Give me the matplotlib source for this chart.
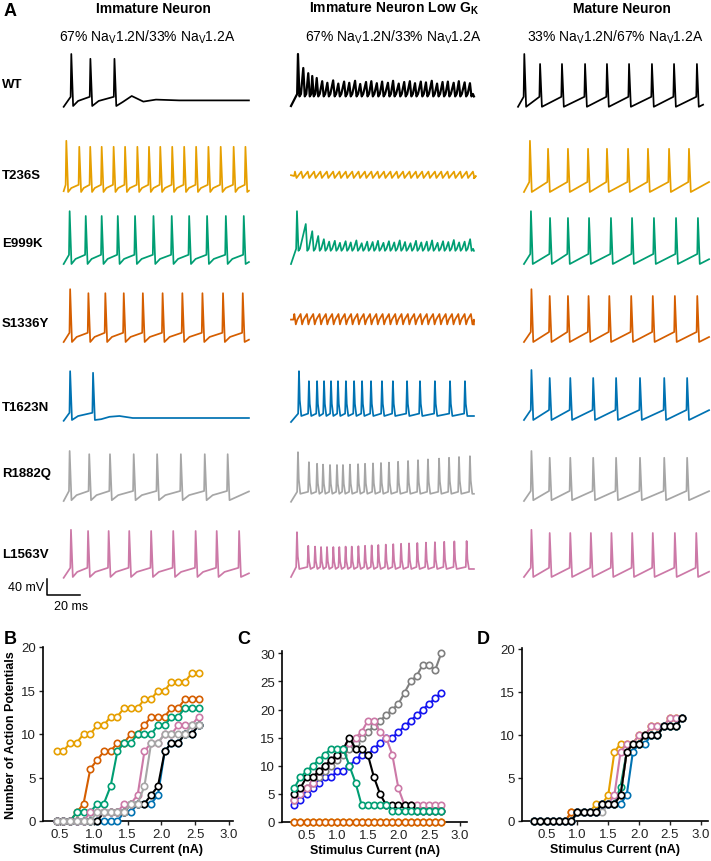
import matplotlib
matplotlib.use('Agg')
import matplotlib.pyplot as plt

plt.rcParams['font.family'] = ['Liberation Sans', 'DejaVu Sans']
plt.rcParams['mathtext.fontset'] = 'custom'
plt.rcParams['mathtext.rm'] = 'Liberation Sans'
plt.rcParams['mathtext.it'] = 'Liberation Sans:italic'
plt.rcParams['mathtext.bf'] = 'Liberation Sans:bold'

# ---------------------------------------------------------------- data
MUTANTS = ['WT', 'T236S', 'E999K', 'S1336Y', 'T1623N', 'R1882Q', 'L1563V']
TRACE_COLORS = ['#000000', '#E69F00', '#009E73', '#D55E00', '#0072B2', '#A6A6A6', '#CC79A7']

# spike times (ms) and peaks (mV); peaks of 2 values = [first, rest]
# Immature neuron
WT_IMM_T = [5.0, 16.5, 31.0]
WT_IMM_PK = [50, 38]
T236S_IMM_T = [2.0, 9.8, 16.4, 23.3, 30.5, 37.4, 44.8, 51.8, 58.6, 65.8, 73.0, 80.2, 87.6, 95.0, 102.8, 109.9]
T236S_IMM_PK = [48, 33]
E999K_IMM_T = [4.0, 13.7, 23.3, 33.0, 43.4, 54.5, 65.5, 76.0, 86.8, 98.1, 108.9]
E999K_IMM_PK = [52, 40]
S1336Y_IMM_T = [4.3, 15.3, 25.5, 36.6, 48.1, 60.0, 71.9, 84.0, 96.4, 108.3]
S1336Y_IMM_PK = [52, 42]
T1623N_IMM_T = [4.3, 18.1]
T1623N_IMM_PK = [42, 38]
R1882Q_IMM_T = [4.0, 15.8, 28.3, 42.6, 56.7, 71.0, 85.4, 99.2]
R1882Q_IMM_PK = [45, 37]
L1563V_IMM_T = [4.8, 15.1, 27.5, 39.9, 53.1, 66.4, 79.9, 92.6, 106.1]
L1563V_IMM_PK = [38, 35]
WT_IMM_TAIL_T = [36.0, 41.4, 48.4, 56.0, 70.0, 112.0]
WT_IMM_TAIL_V = [-70, -55, -69, -64, -66, -66]
T1623N_IMM_TAIL_T = [23.0, 28.0, 34.0, 42.0, 112.0]
T1623N_IMM_TAIL_V = [-78, -72, -70, -75, -75]

# Immature neuron low GK
WT_LGK_T = [4.8, 8.0, 11.0, 13.4, 16.1, 19.4, 22.5, 26.0, 29.1, 32.6, 35.7, 39.2, 42.3, 45.8, 49.0, 52.3, 55.5,
            59.0, 62.1, 65.5, 68.8, 72.2, 75.3, 78.8, 81.9, 85.4, 88.6, 91.9, 95.1, 98.6, 101.7, 105.2, 108.4]
WT_LGK_PK = [50, 15, 2, -5, -10, -18, -22, -16, -24, -19, -22, -17, -25, -20, -18, -23, -19, -22, -17, -24, -20,
             -18, -23, -19, -21, -17, -24, -20, -19, -22, -18, -21, -23]
T236S_LGK_T = [3.0, 6.8, 10.7, 14.5, 18.3, 22.2, 26.0, 29.8, 33.6, 37.5, 41.3, 45.1, 49.0, 52.8, 56.6, 60.5, 64.3,
               68.1, 72.0, 75.8, 79.6, 83.4, 87.3, 91.1, 94.9, 98.8, 102.6, 106.4, 110.2]
T236S_LGK_PK = [-29, -29]
E999K_LGK_T = [4.2, 9.5, 13.4, 17.0, 20.4, 23.6, 27.0, 30.1, 33.5, 36.6, 40.0, 43.2, 46.5, 49.8, 53.0, 56.3, 59.6,
               62.8, 66.1, 69.3, 72.6, 75.9, 79.1, 82.4, 85.6, 88.9, 92.2, 95.4, 98.7, 101.9, 105.2, 108.5]
E999K_LGK_PK = [52, 20, 2, -10, -18, -24, -22, -27, -23, -26, -21, -28, -24, -25, -22, -27, -23, -26, -21, -25, -28,
                -22, -26, -24, -21, -27, -23, -25, -20, -26, -24, -18]
S1336Y_LGK_T = [2.6, 6.4, 10.2, 14.0, 17.8, 21.6, 25.4, 29.2, 33.0, 36.8, 40.6, 44.4, 48.2, 52.0, 55.8, 59.6, 63.4,
                67.2, 71.0, 74.8, 78.6, 82.4, 86.2, 90.0, 93.8, 97.6, 101.4, 105.2, 109.0]
S1336Y_LGK_PK = [-10, -10]
T1623N_LGK_T = [5.4, 11.4, 16.3, 20.5, 24.7, 28.9, 33.7, 38.6, 43.4, 48.8, 55.4, 62.0, 70.5, 78.3, 87.3, 96.4, 105.4]
T1623N_LGK_PK = [42, 17]
R1882Q_LGK_T = [4.8, 11.4, 16.3, 19.9, 24.1, 28.3, 31.9, 36.1, 41.0, 45.2, 50.0, 54.8, 59.6, 65.1, 71.1, 77.1, 83.1,
                89.8, 95.8, 101.8, 108.4]
R1882Q_LGK_PK = [42, 17, 13, 11, 10, 10, 10, 11, 12, 13, 14, 15, 16, 18, 20, 22, 24, 26, 28, 30, 32]
L1563V_LGK_T = [4.2, 11.0, 15.1, 18.7, 22.3, 26.1, 29.7, 33.5, 37.2, 41.2, 45.2, 49.2, 53.2, 57.7, 62.2, 66.9, 71.7,
                76.7, 81.9, 87.3, 92.9, 99.0, 106.4]
L1563V_LGK_PK = [32, -2, -4, -5, -5, -5, -5, -4, -4, -3, -2, -1, 0, 1, 2, 3, 4, 5, 6, 7, 8, 9, 10]

# Mature neuron
WT_MAT_T = [5.0, 14.5, 27.7, 41.6, 54.8, 68.1, 81.9, 95.2, 109.0]
WT_MAT_PK = [50, 25]
T236S_MAT_T = [8.4, 19.3, 31.3, 43.4, 54.8, 67.5, 79.5, 92.2, 104.2]
T236S_MAT_PK = [48, 28]
E999K_MAT_T = [9.0, 20.5, 31.3, 44.0, 57.2, 69.9, 83.1, 96.4, 109.6]
E999K_MAT_PK = [52, 35]
S1336Y_MAT_T = [9.3, 20.3, 31.3, 43.7, 56.2, 69.4, 82.4, 95.7, 109.2]
S1336Y_MAT_PK = [52, 35]
T1623N_MAT_T = [9.3, 20.3, 32.7, 46.5, 60.3, 74.7, 89.3, 103.1]
T1623N_MAT_PK = [45, 25]
R1882Q_MAT_T = [9.3, 20.3, 32.7, 46.5, 60.3, 74.7, 89.3, 103.1]
R1882Q_MAT_PK = [45, 28]
L1563V_MAT_T = [9.3, 20.3, 32.7, 45.1, 57.5, 70.0, 82.4, 95.7, 108.6]
L1563V_MAT_PK = [38, 30]

# F-I curves
CUR_B = [0.45, 0.55, 0.65, 0.75, 0.85, 0.95, 1.05, 1.15, 1.25, 1.35, 1.45, 1.55, 1.65, 1.75, 1.85, 1.95, 2.05,
         2.15, 2.25, 2.35, 2.45, 2.55]
B_T236S = [8, 8, 9, 9, 10, 10, 11, 11, 12, 12, 13, 13, 13, 14, 14, 15, 15, 16, 16, 16, 17, 17]
B_S1336Y = [0, 0, 0, 1, 2, 6, 7, 8, 8, 9, 9, 10, 10, 11, 12, 12, 12, 13, 13, 14, 14, 14]
B_E999K = [0, 0, 0, 1, 1, 1, 2, 2, 4, 8, 9, 9, 10, 10, 10, 11, 11, 12, 12, 13, 13, 13]
B_L1563V = [0, 0, 0, 0, 0, 1, 1, 1, 1, 1, 2, 2, 3, 8, 9, 9, 10, 10, 11, 11, 11, 12]
B_R1882Q = [0, 0, 0, 0, 0, 0, 1, 1, 1, 1, 1, 2, 2, 4, 9, 9, 10, 10, 10, 10, 11, 11]
B_WT = [0, 0, 0, 0, 0, 0, 0, 1, 1, 1, 1, 2, 2, 2, 3, 4, 8, 9, 9, 10, 10, 11]
B_T1623N = [0, 0, 0, 0, 0, 0, 0, 0, 0, 0, 1, 1, 2, 2, 2, 3, 8, 9, 9, 10, 10, 11]

CUR_CD = [0.3, 0.4, 0.5, 0.6, 0.7, 0.8, 0.9, 1.0, 1.1, 1.2, 1.3, 1.4, 1.5, 1.6, 1.7, 1.8, 1.9, 2.0, 2.1, 2.2, 2.3,
          2.4, 2.5, 2.6, 2.7]
C_R1882Q = [4, 5, 6, 7, 8, 9, 10, 11, 12, 13, 14, 15, 16, 17, 18, 19, 20, 21, 23, 25, 26, 28, 28, 27, 30]
C_T1623N = [3, 4, 5, 6, 7, 8, 8, 9, 9, 10, 11, 12, 12, 13, 14, 15, 15, 16, 17, 18, 19, 20, 21, 22, 23]
C_E999K = [6, 8, 9, 10, 11, 12, 13, 13, 13, 10, 7, 3, 3, 3, 3, 3, 2, 2, 2, 2, 2, 2, 2, 2, 2]
C_WT = [5, 6, 8, 8, 9, 10, 11, 12, 13, 15, 13, 13, 12, 8, 5, 3, 3, 3, 3, 3, 2, 2, 2, 2, 2]
C_L1563V = [4, 5, 6, 7, 9, 10, 11, 12, 13, 14, 15, 16, 18, 18, 16, 15, 12, 6, 3, 3, 3, 3, 3, 3, 3]
C_T236S = [0, 0, 0, 0, 0, 0, 0, 0, 0, 0, 0, 0, 0, 0, 0, 0, 0, 0, 0, 0, 0, 0, 0, 0, 0]
C_S1336Y = [0, 0, 0, 0, 0, 0, 0, 0, 0, 0, 0, 0, 0, 0, 0, 0, 0, 0, 0, 0, 0, 0, 0, 0, 0]

D_WT = [0, 0, 0, 0, 0, 0, 0, 1, 1, 1, 1, 2, 2, 2, 3, 8, 9, 9, 10, 10, 10, 11, 11, 11, 12]
D_T236S = [0, 0, 0, 0, 0, 0, 1, 1, 1, 1, 2, 2, 3, 8, 9, 9, 9, 10, 10, 11, 11, 11, 12, 12, 12]
D_S1336Y = [0, 0, 0, 0, 0, 0, 1, 1, 1, 1, 1, 2, 2, 2, 3, 8, 9, 9, 10, 10, 10, 11, 11, 11, 12]
D_E999K = [0, 0, 0, 0, 0, 0, 0, 1, 1, 1, 1, 2, 2, 2, 4, 8, 9, 9, 10, 10, 10, 11, 11, 11, 12]
D_R1882Q = [0, 0, 0, 0, 0, 0, 0, 1, 1, 1, 1, 1, 2, 2, 3, 8, 9, 9, 10, 10, 10, 11, 11, 11, 12]
D_L1563V = [0, 0, 0, 0, 0, 0, 0, 1, 1, 1, 1, 2, 2, 3, 8, 9, 9, 10, 10, 11, 11, 11, 12, 12, 12]
D_T1623N = [0, 0, 0, 0, 0, 0, 0, 1, 1, 1, 1, 2, 2, 2, 2, 3, 8, 9, 9, 10, 10, 11, 11, 11, 12]

# ---------------------------------------------------------------- layout
W, H = 711, 862
fig = plt.figure(figsize=(W / 100, H / 100), dpi=100)


def ax_px(x, y, w, h):
    return fig.add_axes([x / W, 1 - (y + h) / H, w / W, h / H])


PX_PER_MS = 1.66
COL_LEFT = [63, 290, 516]
COL_W = [188, 188, 194]
ROW_ZERO = [75, 161, 233, 311, 389, 470, 546]   # pixel row of 0 mV
V_TOP, V_BOT = 60, -100
MV_PER_PX = 2.5


def build(times, peaks, trough, thresh, t0, t1, v0, style, tail_t=None, tail_v=None, curved=False):
    n = len(times)
    pk = list(peaks) if len(peaks) == n else [peaks[0]] + [peaks[1]] * (n - 1)
    T, V = [t0], [v0]
    for i, ts in enumerate(times):
        if style == 'ramp':
            if curved and i > 0:
                prev = times[i - 1] + 1.1
                T.append(prev + 0.3 * (ts - 0.4 - prev))
                V.append(trough + 0.55 * (thresh - trough))
            T += [ts - 0.4, ts, ts + 1.1]
            V += [thresh, pk[i], trough]
        elif style == 'u':
            T += [ts - 0.5, ts, ts + 0.5, ts + 1.4]
            V += [thresh, pk[i], trough + 0.35 * (pk[i] - trough), trough]
        else:  # osc
            if i == 0:
                T.append(ts - 0.5)
                V.append(thresh)
            T += [ts, ts + 0.9, ts + 1.8]
            V += [pk[i], trough, thresh]
    if tail_t is not None:
        T += tail_t
        V += tail_v
    else:
        if style == 'ramp' and n > 1:
            isi = times[-1] - times[-2]
            slope = (thresh - trough) / max(isi - 1.5, 1.0)
            ve = min(thresh, trough + slope * (t1 - times[-1] - 1.1))
        elif style == 'ramp':
            ve = thresh
        else:
            ve = trough
        T.append(t1)
        V.append(ve)
    return T, V


# per trace: (times, peaks, trough, thresh, t0, t1, v0, style, tail_t, tail_v)
TRACES = {
    (0, 0): (WT_IMM_T, WT_IMM_PK, -80, -57, 0.4, 112, -82, 'ramp', WT_IMM_TAIL_T, WT_IMM_TAIL_V),
    (1, 0): (T236S_IMM_T, T236S_IMM_PK, -80, -62, 0.4, 112, -78, 'ramp', None, None),
    (2, 0): (E999K_IMM_T, E999K_IMM_PK, -80, -57, 0.4, 112, -80, 'ramp', None, None),
    (3, 0): (S1336Y_IMM_T, S1336Y_IMM_PK, -80, -57, 0.4, 112, -80, 'ramp', None, None),
    (4, 0): (T1623N_IMM_T, T1623N_IMM_PK, -80, -62, 0.4, 112, -82, 'ramp', T1623N_IMM_TAIL_T, T1623N_IMM_TAIL_V),
    (5, 0): (R1882Q_IMM_T, R1882Q_IMM_PK, -78, -55, 0.4, 112, -80, 'ramp', None, None),
    (6, 0): (L1563V_IMM_T, L1563V_IMM_PK, -80, -57, 0.4, 112, -82, 'ramp', None, None),
    (0, 1): (WT_LGK_T, WT_LGK_PK, -56, -50, 0.6, 110.8, -80, 'osc', None, None),
    (1, 1): (T236S_LGK_T, T236S_LGK_PK, -45, -40, 0.6, 110.8, -38, 'osc', None, None),
    (2, 1): (E999K_LGK_T, E999K_LGK_PK, -47, -42, 0.6, 110.8, -80, 'osc', None, None),
    (3, 1): (S1336Y_LGK_T, S1336Y_LGK_PK, -36, -24, 0.6, 110.8, -24, 'osc', None, None),
    (4, 1): (T1623N_LGK_T, T1623N_LGK_PK, -70, -64, 0.6, 110.8, -85, 'u', None, None),
    (5, 1): (R1882Q_LGK_T, R1882Q_LGK_PK, -62, -57, 0.6, 110.8, -82, 'u', None, None),
    (6, 1): (L1563V_LGK_T, L1563V_LGK_PK, -60, -55, 0.6, 110.8, -80, 'u', None, None),
    (0, 2): (WT_MAT_T, WT_MAT_PK, -82, -57, 1.2, 112.7, -82, 'ramp', None, None),
    (1, 2): (T236S_MAT_T, T236S_MAT_PK, -80, -55, 4.8, 116.3, -80, 'ramp', None, None),
    (2, 2): (E999K_MAT_T, E999K_MAT_PK, -80, -55, 4.8, 116.3, -80, 'ramp', None, None),
    (3, 2): (S1336Y_MAT_T, S1336Y_MAT_PK, -80, -55, 4.8, 116.3, -80, 'ramp', None, None),
    (4, 2): (T1623N_MAT_T, T1623N_MAT_PK, -80, -55, 4.8, 116.3, -80, 'ramp', None, None),
    (5, 2): (R1882Q_MAT_T, R1882Q_MAT_PK, -78, -55, 4.8, 116.3, -80, 'ramp', None, None),
    (6, 2): (L1563V_MAT_T, L1563V_MAT_PK, -80, -57, 4.8, 116.3, -80, 'ramp', None, None),
}

trace_axes = {}
for (r, c), spec in TRACES.items():
    times, peaks, trough, thresh, t0, t1, v0, style, tt, tv = spec
    top = ROW_ZERO[r] - V_TOP / MV_PER_PX
    hgt = (V_TOP - V_BOT) / MV_PER_PX
    ax = ax_px(COL_LEFT[c], top, COL_W[c], hgt)
    ax.set_xlim(0, COL_W[c] / PX_PER_MS)
    ax.set_ylim(V_BOT, V_TOP)
    ax.axis('off')
    T, V = build(times, peaks, trough, thresh, t0, t1, v0, style, tt, tv, curved=(c == 0))
    lw = 1.6 if (r == 0 and c == 1) else 1.25
    ax.plot(T, V, color=TRACE_COLORS[r], lw=lw, solid_joinstyle='round', clip_on=False)
    trace_axes[(r, c)] = ax

# scale bar in L1563V immature axes
sb = trace_axes[(6, 0)]
sb.plot([-9.6, -9.6, 10.4], [-85, -125, -125], color='black', lw=1.1, clip_on=False)

# Row labels
ROW_LABEL_Y = [85, 176, 244, 324, 408, 474, 555]
for name, y in zip(MUTANTS, ROW_LABEL_Y):
    fig.text(2 / W, 1 - y / H, name, fontsize=9.5, fontweight='bold', ha='left', va='center')

fig.text(44 / W, 1 - 588 / H, '40 mV', fontsize=9, ha='right', va='center')
fig.text(71 / W, 1 - 607 / H, '20 ms', fontsize=9, ha='center', va='center')

# titles
fig.text(4 / W, 1 - 11 / H, 'A', fontsize=13, fontweight='bold', ha='left', va='center')
fig.text(153 / W, 1 - 9 / H, 'Immature Neuron', fontsize=10, fontweight='bold', ha='center', va='center')
fig.text(394 / W, 1 - 9 / H, r'Immature Neuron Low G$_\mathbf{K}$', fontsize=10, fontweight='bold',
         ha='center', va='center')
fig.text(622 / W, 1 - 9 / H, 'Mature Neuron', fontsize=10, fontweight='bold', ha='center', va='center')
fig.text(147 / W, 1 - 37 / H, r'67% Na$_\mathrm{V}$1.2N/33% Na$_\mathrm{V}$1.2A', fontsize=10,
         ha='center', va='center')
fig.text(393 / W, 1 - 37 / H, r'67% Na$_\mathrm{V}$1.2N/33% Na$_\mathrm{V}$1.2A', fontsize=10,
         ha='center', va='center')
fig.text(615 / W, 1 - 37 / H, r'33% Na$_\mathrm{V}$1.2N/67% Na$_\mathrm{V}$1.2A', fontsize=10,
         ha='center', va='center')

# ---------------------------------------------------------------- F-I panels
C_ORANGE, C_VERM, C_GREEN = '#E69F00', '#D55E00', '#009E73'
C_PINK, C_BLACK = '#CC79A7', '#000000'


def fi_panel(ax, x, series):
    for y, col in series:
        ax.plot(x, y, color=col, lw=1.5, marker='o', ms=4.6, mfc='white', mec=col, mew=1.2,
                clip_on=False, zorder=3)
    for s in ['top', 'right']:
        ax.spines[s].set_visible(False)
    for s in ['left', 'bottom']:
        ax.spines[s].set_linewidth(1.2)
    ax.tick_params(direction='out', length=3, width=1.0, labelsize=9.5, colors='#222222', pad=2)
    ax.set_xticks([0.5, 1.0, 1.5, 2.0, 2.5, 3.0])
    ax.set_xticklabels(['0.5', '1.0', '1.5', '2.0', '2.5', '3.0'])
    ax.set_xlabel('Stimulus Current (nA)', fontsize=9, fontweight='bold', labelpad=2)


axB = ax_px(43, 648, 190, 174)
fi_panel(axB, CUR_B, [(B_T236S, C_ORANGE), (B_S1336Y, C_VERM), (B_E999K, C_GREEN), (B_T1623N, '#0072B2'),
                      (B_WT, C_BLACK), (B_L1563V, C_PINK), (B_R1882Q, '#A6A6A6')])
axB.set_xlim(0.25, 3.06)
axB.set_ylim(0, 20)
axB.set_yticks([0, 5, 10, 15, 20])
axB.set_ylabel('Number of Action Potentials', fontsize=9, fontweight='bold', labelpad=3)

axC = ax_px(282, 652, 185, 171)
fi_panel(axC, CUR_CD, [(C_T1623N, '#1414F0'), (C_R1882Q, '#7F7F7F'), (C_L1563V, C_PINK), (C_WT, C_BLACK),
                       (C_E999K, C_GREEN), (C_T236S, C_ORANGE), (C_S1336Y, C_VERM)])
axC.set_xlim(0.1, 3.12)
axC.set_ylim(0, 30.4)
axC.set_yticks([0, 5, 10, 15, 20, 25, 30])

axD = ax_px(522, 649, 186, 173)
fi_panel(axD, CUR_CD, [(D_T236S, C_ORANGE), (D_S1336Y, C_VERM), (D_E999K, C_GREEN), (D_R1882Q, '#A6A6A6'),
                       (D_L1563V, C_PINK), (D_T1623N, '#0072B2'), (D_WT, C_BLACK)])
axD.set_xlim(0.1, 3.12)
axD.set_ylim(0, 20.1)
axD.set_yticks([0, 5, 10, 15, 20])

fig.text(4 / W, 1 - 640 / H, 'B', fontsize=13, fontweight='bold', ha='left', va='center')
fig.text(237 / W, 1 - 640 / H, 'C', fontsize=13, fontweight='bold', ha='left', va='center')
fig.text(477 / W, 1 - 640 / H, 'D', fontsize=13, fontweight='bold', ha='left', va='center')

fig.savefig('out.png', dpi=100)
